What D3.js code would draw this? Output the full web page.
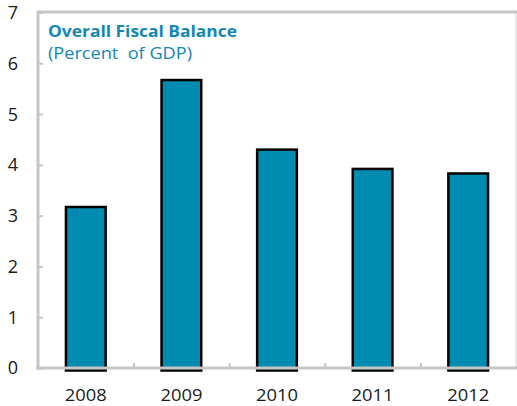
<!DOCTYPE html>
<html><head><meta charset="utf-8">
<script src="https://cdn.jsdelivr.net/npm/d3@7"></script>
<style>body{margin:0;background:#fff}svg{display:block}</style>
</head><body>
<svg id="c" width="517" height="406"></svg>
<script>
const years = ["2008","2009","2010","2011","2012"];
const values = [3.17, 5.67, 4.30, 3.92, 3.83];
const yTicks = [0,1,2,3,4,5,6,7];
const title = "Overall Fiscal Balance";
const subtitle = "(Percent  of GDP)";

const svg = d3.select("#c");
const L = 38, R = 516, T = 12.5, B = 368;
const x = d3.scaleBand().domain(years).range([L, R]);
const y = d3.scaleLinear().domain([0, 7]).range([B, T]);
const barW = x.bandwidth() * 0.415;
const grey = "#c6c6c6";
const fill = "#008cb0";
const blue = "#1287b8";
const font = "Open Sans, sans-serif";

// frame top & right
svg.append("line").attr("x1", L).attr("x2", R+1).attr("y1", T-0.5).attr("y2", T-0.5).attr("stroke", grey).attr("stroke-width", 3);
svg.append("line").attr("x1", R).attr("x2", R).attr("y1", T).attr("y2", B).attr("stroke", "#d0d0d0").attr("stroke-width", 1);

// bars
svg.selectAll("rect.bar").data(values).join("rect").attr("class","bar")
  .attr("x", (d,i) => x(years[i]) + x.bandwidth()/2 - barW/2)
  .attr("y", d => y(d))
  .attr("width", barW)
  .attr("height", d => y(0) - y(d) + 2.5)
  .attr("fill", fill).attr("stroke", "#000").attr("stroke-width", 2.5);

// left axis
const ya = svg.append("g").attr("transform", `translate(${L},0)`)
  .call(d3.axisRight(y).tickValues(yTicks).tickSize(5).tickFormat(""));
ya.select(".domain").remove();
ya.selectAll("line").attr("stroke", grey).attr("stroke-width", 2);
svg.append("line").attr("x1", L).attr("x2", L).attr("y1", T-2).attr("y2", B+1.5).attr("stroke", grey).attr("stroke-width", 3);
svg.selectAll("text.yl").data(yTicks).join("text").attr("class","yl")
  .attr("x", 13).attr("y", d => y(d)).attr("dy", "0.36em").attr("text-anchor","middle")
  .attr("font-family", font).attr("font-size", 18).attr("fill", "#1a1a1a").text(d => d);

// bottom axis
const xb = svg.append("g").attr("transform", `translate(0,${B})`)
  .call(d3.axisTop(d3.scaleLinear().domain([0,5]).range([L,R])).tickValues([1,2,3,4]).tickSize(5).tickFormat(""));
xb.select(".domain").remove();
xb.selectAll("line").attr("stroke", grey).attr("stroke-width", 2);
svg.append("line").attr("x1", L-1.5).attr("x2", R+1).attr("y1", B).attr("y2", B).attr("stroke", grey).attr("stroke-width", 3);
svg.selectAll("text.xl").data(years).join("text").attr("class","xl")
  .attr("x", d => x(d) + x.bandwidth()/2).attr("y", 401).attr("text-anchor","middle")
  .attr("font-family", font).attr("font-size", 16.5).attr("fill", "#1a1a1a")
  .attr("textLength", 42).attr("lengthAdjust", "spacingAndGlyphs").text(d => d);

// titles
svg.append("text").attr("x", 48).attr("y", 37).attr("font-family", font)
  .attr("font-weight", "bold").attr("font-size", 16.5).attr("fill", blue)
  .attr("textLength", 189).attr("lengthAdjust", "spacingAndGlyphs").text(title);
svg.append("text").attr("x", 48).attr("y", 59).attr("font-family", font)
  .attr("font-size", 16.5).attr("fill", blue).style("white-space","pre")
  .attr("textLength", 144).attr("lengthAdjust", "spacingAndGlyphs").text(subtitle);
</script>
</body></html>
